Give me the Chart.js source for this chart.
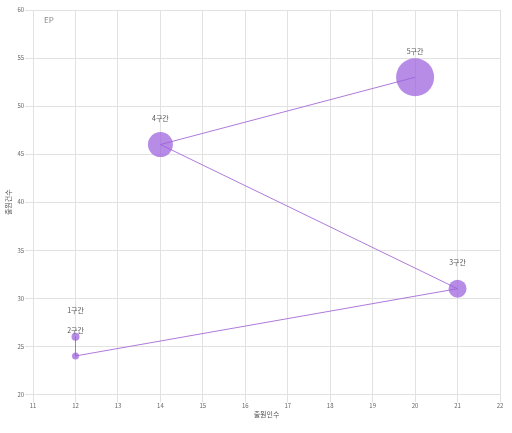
<!DOCTYPE html>
<html><head><meta charset="utf-8">
<script src="https://cdn.jsdelivr.net/npm/chart.js@4"></script>
<style>html,body{margin:0;padding:0;background:#fff}#wrap{width:512px;height:433px}</style>
</head><body><div id="wrap"><canvas id="c" width="512" height="433"></canvas></div>
<script>
const segLabels = ['1구간','2구간','3구간','4구간','5구간'];
const applicants = [12, 12, 21, 14, 20];
const filings = [26, 24, 31, 46, 53];
const bubbleR = [4, 3.5, 9, 12.5, 19];
const xTitle = '출원인수';
const yTitle = '출원건수';
const cornerText = 'EP';

const pts = applicants.map((x,i)=>({x:x, y:filings[i], r:bubbleR[i]}));
const linePts = applicants.map((x,i)=>({x:x, y:filings[i]}));
const FONT = "'Noto Sans CJK KR','Noto Sans',sans-serif";

const labelPlugin = {
  id:'lbl',
  afterDatasetsDraw(chart){
    const ctx = chart.ctx;
    const meta = chart.getDatasetMeta(0);
    ctx.save();
    ctx.font = '7px ' + FONT;
    ctx.fillStyle = '#555';
    ctx.textAlign = 'center';
    ctx.textBaseline = 'middle';
    meta.data.forEach((el,i)=>{ ctx.fillText(segLabels[i], el.x, el.y - 26); });
    const a = chart.chartArea;
    ctx.textAlign = 'left';
    ctx.font = '8px ' + FONT;
    ctx.fillStyle = '#888';
    ctx.fillText(cornerText, a.left + 11, a.top + 10);
    ctx.restore();
  }
};

new Chart(document.getElementById('c'), {
  type:'bubble',
  data:{datasets:[
    {label:'bubble', data:pts, backgroundColor:'rgba(155,95,220,0.72)', borderWidth:0, order:1},
    {type:'line', label:'line', data:linePts, borderColor:'rgba(170,115,215,0.95)', borderWidth:1, pointRadius:0, fill:false, tension:0, order:2}
  ]},
  options:{
    responsive:false, animation:false,
    layout:{autoPadding:false, padding:{left:4,right:12,top:10,bottom:14}},
    plugins:{legend:{display:false}, tooltip:{enabled:false}},
    scales:{
      x:{type:'linear', min:11, max:22, ticks:{stepSize:1, padding:0, font:{size:6, family:FONT}, color:'#666'},
         grid:{color:'#e2e2e2'}, border:{color:'#e2e2e2'},
         title:{display:true, text:xTitle, font:{size:7, family:FONT}, color:'#555', padding:{top:1,bottom:0}}},
      y:{type:'linear', min:20, max:60, ticks:{stepSize:5, padding:1, font:{size:6, family:FONT}, color:'#666'},
         grid:{color:'#e2e2e2'}, border:{color:'#e2e2e2'},
         title:{display:true, text:yTitle, font:{size:7, family:FONT}, color:'#555', padding:{top:0,bottom:4}}}
    }
  },
  plugins:[labelPlugin]
});
</script></body></html>
